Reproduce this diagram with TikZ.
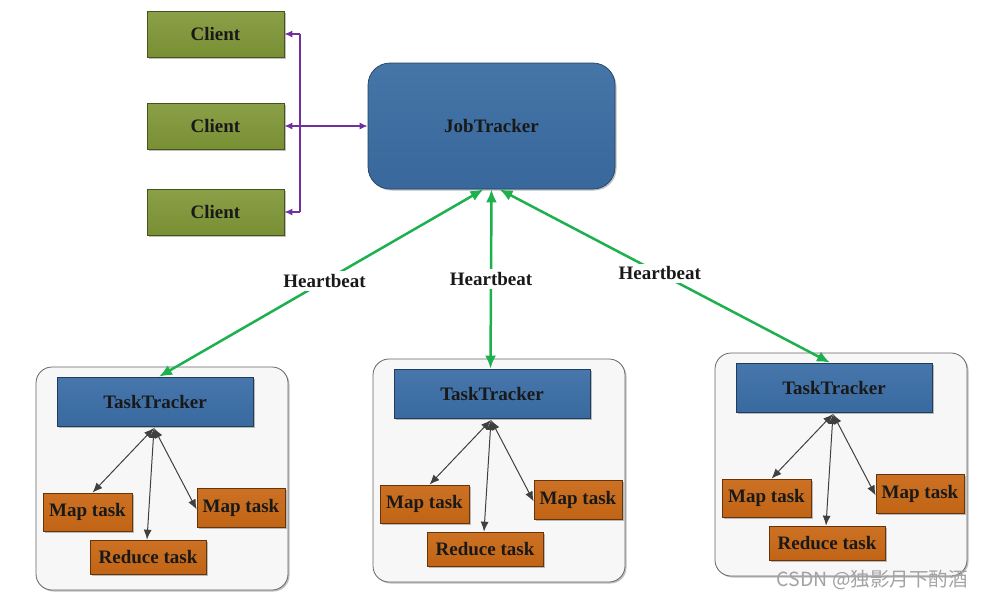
\documentclass[tikz,border=0pt]{standalone}
\usepackage{fontspec}
\setmainfont{Liberation Serif}
\newfontfamily\cjkfont{Noto Sans CJK SC}
\usetikzlibrary{arrows.meta,shadows}
\definecolor{clientg}{HTML}{809737}
\definecolor{jtblue}{HTML}{3A6CA2}
\definecolor{ttblue}{HTML}{3B6EA6}
\definecolor{taskor}{HTML}{C96816}
\definecolor{purp}{HTML}{7030A0}
\definecolor{grn}{HTML}{1DB04F}
\definecolor{hubgray}{HTML}{404040}
\tikzset{
  lbl/.style={font=\fontsize{19}{21}\selectfont\bfseries, text=black!90},
  shad/.style={drop shadow={shadow xshift=1.5pt,shadow yshift=-1.5pt,opacity=0.25,fill=black}},
  clientbox/.style={lbl, shad, draw=clientg!55!black, line width=0.7pt,
     top color=clientg!92!white, bottom color=clientg!95!black,
     minimum width=137pt, minimum height=46pt, inner sep=0pt},
  jtbox/.style={lbl, shad, draw=jtblue!60!black, line width=0.7pt,
     top color=jtblue!94!white, bottom color=jtblue!96!black,
     rounded corners=22pt, minimum width=247pt, minimum height=126pt, inner sep=0pt},
  ttbox/.style={lbl, shad, draw=ttblue!55!black, line width=0.7pt,
     top color=ttblue!94!white, bottom color=ttblue!96!black,
     minimum width=196pt, minimum height=49pt, inner sep=0pt},
  taskbox/.style={lbl, shad, draw=taskor!50!black, line width=0.7pt,
     top color=taskor!94!white, bottom color=taskor!96!black,
     minimum height=38pt, inner sep=0pt},
  groupbox/.style={shad, draw=black!60, line width=0.8pt, fill=black!3,
     rounded corners=16pt, minimum width=252pt, minimum height=223pt, inner sep=0pt},
  purpline/.style={draw=purp, line width=1.4pt},
  purparrow/.style={purpline, -{Latex[length=8pt,width=7pt]}},
  grnarrow/.style={draw=grn, line width=2.5pt, {Latex[length=13pt,width=11pt]}-{Latex[length=13pt,width=11pt]}},
  hbeat/.style={lbl, fill=white, inner sep=3pt},
  hubarrow/.style={draw=hubgray, line width=1pt, {Latex[length=10pt,width=8pt]}-{Latex[length=10pt,width=8pt]}},
}
\newcommand{\taskgroup}[3]{%
  \begin{scope}[shift={(#2,#3)}]
    \node[groupbox] (g#1) at (162,478.5) {};
    \node[ttbox] (tt#1) at (155,401.5) {TaskTracker};
    \node[taskbox, minimum width=89pt] (ml#1) at (87.5,512) {Map task};
    \node[taskbox, minimum width=88pt, minimum height=39pt] (mr#1) at (241,507.5) {Map task};
    \node[taskbox, minimum width=116pt, minimum height=34pt] (rd#1) at (148,557) {Reduce task};
    \coordinate (hub#1) at (154,428);
    \draw[hubarrow] (hub#1) -- ([xshift=5pt]ml#1.north);
    \draw[hubarrow] (hub#1) -- ([xshift=-1pt]rd#1.north);
    \draw[hubarrow] (hub#1) -- ([yshift=-2pt]mr#1.west);
  \end{scope}%
}
\begin{document}
\begin{tikzpicture}[x=1pt,y=-1pt]
\useasboundingbox (0,0) rectangle (984,598);
\fill[white] (0,0) rectangle (984,598);

% clients
\node[clientbox] (c1) at (215.5,34) {Client};
\node[clientbox] (c2) at (215.5,126) {Client};
\node[clientbox] (c3) at (215.5,212) {Client};

% job tracker
\node[jtbox] (jt) at (491.5,126) {JobTracker};

% purple bus
\coordinate (bus) at (300,126);
\draw[purpline] (bus |- c1.east) -- (bus |- c3.east);
\draw[purparrow] (bus |- c1.east) -- (c1.east);
\draw[purparrow] (bus |- c3.east) -- (c3.east);
\draw[purpline, {Latex[length=8pt,width=7pt]}-{Latex[length=8pt,width=7pt]}] (c2.east) -- (jt.west);

% task groups
\taskgroup{1}{0}{0}
\taskgroup{2}{337}{-8}
\taskgroup{3}{679}{-14}

% heartbeats
\draw[grnarrow] ([xshift=-8pt]jt.south) -- node[hbeat, pos=0.49] {Heartbeat} ([xshift=4pt]tt1.north);
\draw[grnarrow] (jt.south) -- node[hbeat, pos=0.5] {Heartbeat} ([xshift=-1.5pt]tt2.north);
\draw[grnarrow] ([xshift=8pt]jt.south) -- node[hbeat, pos=0.485] {Heartbeat} ([xshift=-4pt]tt3.north);

% watermark
\node[font=\cjkfont\fontsize{19.5}{21}\selectfont, text=black!36, anchor=east, inner sep=0pt] (wm) at (968,580) {CSDN @独影月下酌酒};
\end{tikzpicture}
\end{document}
